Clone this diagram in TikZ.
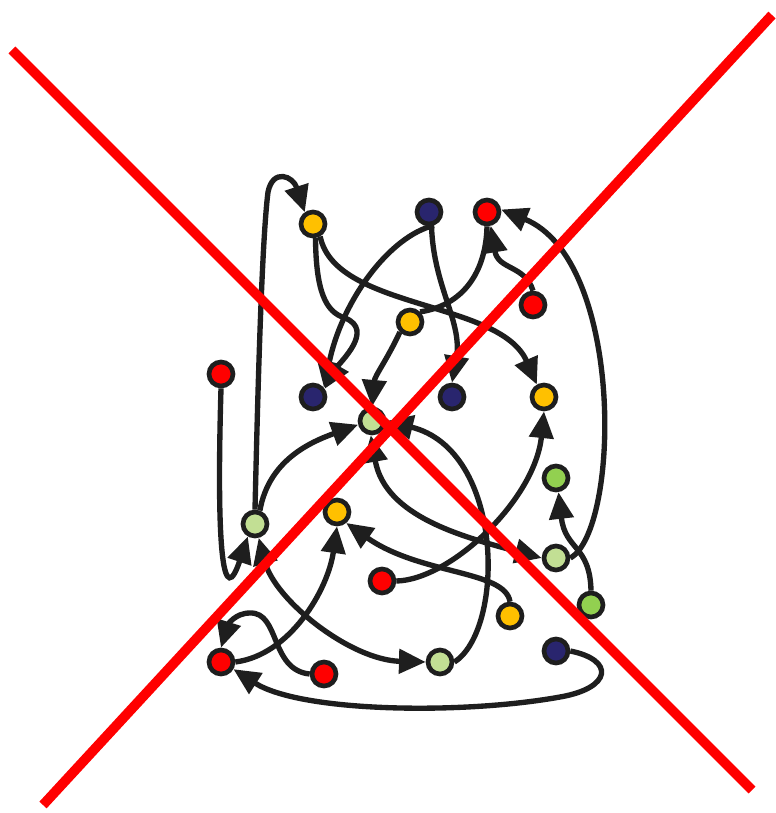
\documentclass[tikz,border=0pt]{standalone}
\usepackage{tikz}
\usetikzlibrary{arrows.meta, backgrounds}
\definecolor{inkdark}{HTML}{1E1E1E}
\definecolor{dotyellow}{HTML}{FFC000}
\definecolor{dotnavy}{HTML}{29256E}
\definecolor{dotred}{HTML}{FF0000}
\definecolor{dotlime}{HTML}{C2DF94}
\definecolor{dotgreen}{HTML}{92D050}
\tikzset{
  dotnode/.style={
    circle, minimum size=0.6cm, inner sep=0pt,
    draw=inkdark, line width=3.3pt, fill=#1
  },
  linkline/.style={line width=3.8pt, color=inkdark},
  linkarrow/.style={linkline, -{Triangle[length=19pt,width=17pt]}},
  linkboth/.style={linkline, {Triangle[length=19pt,width=17pt]}-{Triangle[length=19pt,width=17pt]}},
  crossline/.style={line width=7pt, color=dotred},
}

\begin{document}
\begin{tikzpicture}[x=0.025cm, y=0.025cm]
  \useasboundingbox (0,0) rectangle (775,-813);
  \node[dotnode=dotyellow](y1) at (313,-224){};
  \node[dotnode=dotnavy](n1) at (429,-212){};
  \node[dotnode=dotred](r1) at (487,-212){};
  \node[dotnode=dotred](r2) at (533,-305){};
  \node[dotnode=dotyellow](y2) at (410,-322){};
  \node[dotnode=dotred](r3) at (221,-374){};
  \node[dotnode=dotnavy](n2) at (313,-397){};
  \node[dotnode=dotlime](l1) at (372,-421){};
  \node[dotnode=dotnavy](n3) at (452,-397){};
  \node[dotnode=dotyellow](y3) at (544,-397){};
  \node[dotnode=dotgreen](g1) at (556,-478){};
  \node[dotnode=dotlime](l2) at (255,-524){};
  \node[dotnode=dotyellow](y4) at (337,-512){};
  \node[dotnode=dotlime](l3) at (556,-558){};
  \node[dotnode=dotred](r4) at (382,-581){};
  \node[dotnode=dotgreen](g2) at (591,-605){};
  \node[dotnode=dotyellow](y5) at (510,-616){};
  \node[dotnode=dotnavy](n4) at (556,-651){};
  \node[dotnode=dotred](r5) at (221,-662){};
  \node[dotnode=dotred](r6) at (324,-674){};
  \node[dotnode=dotlime](l4) at (440,-662){};
  \begin{scope}[on background layer]
    \draw[linkarrow](l2.north) .. controls (258,-380) and (262,-240) .. (268,-192)
      .. controls (273,-168) and (293,-176) .. (y1.125);
    \draw[linkarrow](r3.south) .. controls (216,-560) and (224,-608) .. (l2.-120);
    \draw[linkarrow](l2.70) to[out=80,in=200] (l1.195);
    \draw[linkarrow](y1.-80) .. controls (316,-290) and (325,-312) .. (345,-318)
      .. controls (375,-330) and (340,-362) .. (n2.35);
    \draw[linkarrow](n1.-70) .. controls (390,-236) and (342,-300) .. (n2.40);
    \draw[linkarrow](n1.-80) to[out=-88,in=80] (n3.north);
    \draw[linkarrow](y1.-60) .. controls (335,-310) and (500,-300) .. (y3.120);
    \draw[linkline](r1.south) .. controls (486,-270) and (465,-305) .. (y2.45);
    \draw[linkarrow](r2.north) .. controls (525,-265) and (498,-270) .. (r1.-75);
    \draw[linkarrow](l3.east) .. controls (620,-530) and (625,-260) .. (r1.10);
    \draw[linkarrow](y2.225) to[out=-115,in=85] (l1.north);
    \draw[linkarrow](l4.east) .. controls (505,-630) and (505,-450) .. (l1.east);
    \draw[linkboth](l1.-95) to[out=-80,in=165] (l3.west);
    \draw[linkarrow](r4.east) .. controls (450,-580) and (535,-500) .. (y3.south);
    \draw[linkarrow](y5.north) .. controls (505,-570) and (420,-575) .. (y4.-50);
    \draw[linkarrow](r5.east) .. controls (290,-655) and (328,-590) .. (y4.south);
    \draw[linkboth](l2.-75) .. controls (275,-600) and (350,-660) .. (l4.west);
    \draw[linkarrow](r6.west) .. controls (270,-670) and (280,-612) .. (250,-613)
      .. controls (235,-613) and (228,-625) .. (r5.north);
    \draw[linkarrow](n4.east) .. controls (615,-660) and (612,-688) .. (560,-697)
      .. controls (460,-715) and (300,-712) .. (r5.-30);
    \draw[linkarrow](g2.north) .. controls (590,-545) and (565,-550) .. (g1.-80);
  \end{scope}
  \draw[crossline](12,-50) -- (752,-790);
  \draw[crossline](43,-805) -- (772,-15);
\end{tikzpicture}
\end{document}
